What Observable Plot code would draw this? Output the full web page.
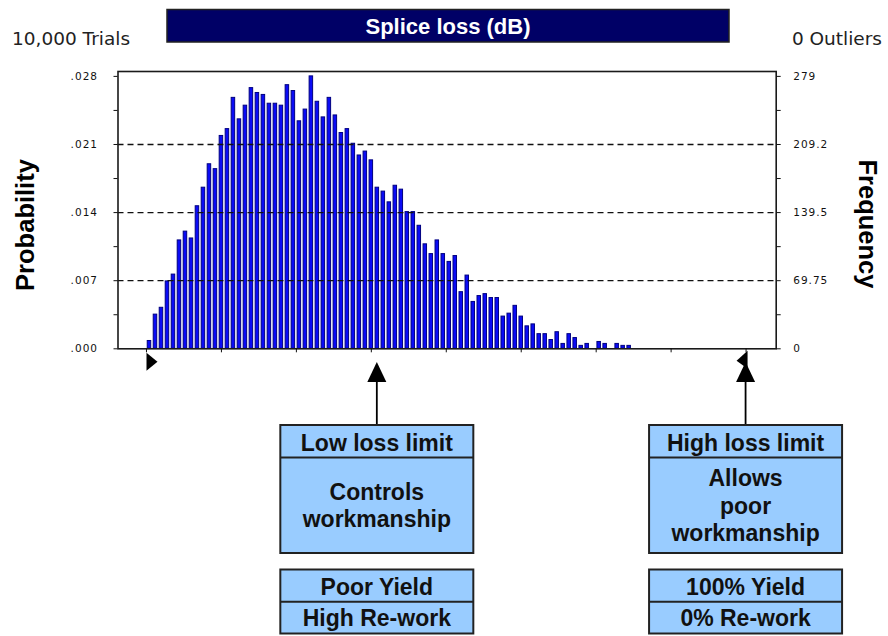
<!DOCTYPE html>
<html><head><meta charset="utf-8">
<script src="https://cdn.jsdelivr.net/npm/d3@7"></script>
<script src="https://cdn.jsdelivr.net/npm/@observablehq/plot@0.6"></script>
<style>
body{margin:0;background:#fff;}
#wrap{position:relative;width:888px;height:636px;overflow:hidden;background:#fff;}
#wrap svg{position:absolute;left:0;top:0;}
</style></head><body><div id="wrap"></div>
<script>
// Histogram of splice loss: frequency per bin (10,000 trials)
const counts = [8,35,42,69,76,111,120,113,146,165,
  189,184,218,225,257,235,249,267,262,260,
  251,251,249,270,264,233,245,279,253,237,
  257,239,221,225,210,198,202,193,165,161,
  150,167,163,140,140,126,107,97,111,97,
  89,95,58,75,48,54,56,52,52,33,
  36,44,33,23,25,15,15,9,17,5,
  15,11,3,5,0,7,5,0,5,3,3];
const binWidth = 0.004; // dB
const trials = 10000;
const yMajor = [0, 69.75, 139.5, 209.25, 279];
const leftLabels = [".000", ".007", ".014", ".021", ".028"];
const rightLabels = ["0", "69.75", "139.5", "209.2", "279"];
const xTicks = [0, 0.05, 0.10, 0.15, 0.20, 0.25, 0.30, 0.35, 0.40];
const limitValues = [0.154, 0.4];
const limitTitles = ["Low loss limit", "High loss limit"];
const limitBodies = [["Controls", "workmanship"], ["Allows", "poor", "workmanship"]];
const limitFeet = [["Poor Yield", "High Re-work"], ["100% Yield", "0% Re-work"]];
const titleText = "Splice loss (dB)";
const trialsText = "10,000 Trials";
const outliersText = "0 Outliers";

const bins = counts.map((c, i) => ({x1: i * binWidth, x2: (i + 1) * binWidth, count: c}));
const yAll = d3.range(9).map(i => i * yMajor[4] / 8);
const lab = labels => d => {
  const k = yMajor.findIndex(v => Math.abs(v - d) < 1e-6);
  return k >= 0 ? labels[k] : "";
};

const rightTri = {draw(ctx) { ctx.moveTo(0, -9); ctx.lineTo(11, 0); ctx.lineTo(0, 9); ctx.closePath(); }};
const leftFlag = {draw(ctx) { ctx.moveTo(1.5, -9); ctx.lineTo(-9.5, 1); ctx.lineTo(1.5, 9); ctx.closePath(); }};

const plot = Plot.plot({
  width: 888, height: 400,
  marginLeft: 117.5, marginRight: 112.3, marginTop: 71, marginBottom: 51.7,
  x: {domain: [-0.019, 0.4201], axis: null},
  y: {domain: [0, 284], axis: null},
  style: {background: "transparent", fontFamily: "DejaVu Sans", fontSize: "10.5px", letterSpacing: "1px", color: "#111", overflow: "visible"},
  marks: [
    Plot.rectY(bins, {x1: "x1", x2: "x2", y: "count", fill: "#0b0bf5", stroke: "#000080", strokeWidth: 1, insetLeft: 1.25, insetRight: 1.25}),
    Plot.ruleY(yMajor.slice(1, 4), {stroke: "#111", strokeWidth: 1.3, strokeDasharray: "6,4"}),
    Plot.frame({stroke: "#1a1a1a", strokeWidth: 1.6}),
    Plot.axisY(yAll, {anchor: "left", tickSize: 4, tickPadding: 16, tickFormat: lab(leftLabels), label: null}),
    Plot.axisY(yAll, {anchor: "right", tickSize: 4, tickPadding: 13, tickFormat: lab(rightLabels), label: null}),
    Plot.axisX(xTicks, {anchor: "bottom", tickSize: 4, tickFormat: () => "", label: null}),
    Plot.dot([xTicks[0]], {x: d => d, y: () => 0, dy: 13, r: 9, symbol: rightTri, fill: "#000", stroke: null}),
    Plot.dot([xTicks[xTicks.length - 1]], {x: d => d, y: () => 0, dy: 11, r: 9, symbol: leftFlag, fill: "#000", stroke: null})
  ]
});
const wrap = document.getElementById("wrap");
wrap.appendChild(plot);

const xs = plot.scale("x");
const svg = d3.select(wrap).append("svg").attr("width", 888).attr("height", 636)
  .style("pointer-events", "none");

// Title bar and corner labels
svg.append("rect").attr("x", 167).attr("y", 9.5).attr("width", 562).attr("height", 32.5)
  .attr("fill", "#000066").attr("stroke", "#222").attr("stroke-width", 1.5);
svg.append("text").attr("x", 448).attr("y", 34).attr("text-anchor", "middle")
  .attr("font-family", "Liberation Sans, Arial, sans-serif").attr("font-weight", "bold")
  .attr("font-size", 22).attr("fill", "#fff").text(titleText);
svg.append("text").attr("x", 12).attr("y", 45).attr("font-family", "DejaVu Sans")
  .attr("font-size", 18.5).attr("fill", "#222").text(trialsText);
svg.append("text").attr("x", 882).attr("y", 45).attr("text-anchor", "end").attr("font-family", "DejaVu Sans")
  .attr("font-size", 18.5).attr("fill", "#222").text(outliersText);

// Axis titles
svg.append("text").attr("transform", "translate(34,225) rotate(-90)").attr("text-anchor", "middle")
  .attr("font-family", "Liberation Sans, Arial, sans-serif").attr("font-weight", "bold")
  .attr("font-size", 25.5).attr("fill", "#000").text("Probability");
svg.append("text").attr("transform", "translate(858.5,224) rotate(90)").attr("text-anchor", "middle")
  .attr("font-family", "Liberation Sans, Arial, sans-serif").attr("font-weight", "bold")
  .attr("font-size", 25.5).attr("fill", "#000").text("Frequency");

// Limit arrows and annotation boxes
const boxW = 193;
const fontBox = {family: "Liberation Sans, Arial, sans-serif", size: 23};
limitValues.forEach((v, i) => {
  const cx = xs.apply(v);
  const g = svg.append("g");
  g.append("line").attr("x1", cx).attr("x2", cx).attr("y1", 380).attr("y2", 425)
    .attr("stroke", "#000").attr("stroke-width", 1.8);
  g.append("path").attr("d", `M${cx},362 L${cx + 9.5},382 L${cx - 9.5},382 Z`).attr("fill", "#000");
  const left = cx - boxW / 2;
  // main box
  g.append("rect").attr("x", left).attr("y", 425).attr("width", boxW).attr("height", 128)
    .attr("fill", "#99ccff").attr("stroke", "#222").attr("stroke-width", 2);
  g.append("line").attr("x1", left).attr("x2", left + boxW).attr("y1", 457.5).attr("y2", 457.5)
    .attr("stroke", "#222").attr("stroke-width", 2);
  // foot box
  g.append("rect").attr("x", left).attr("y", 569.5).attr("width", boxW).attr("height", 64)
    .attr("fill", "#99ccff").attr("stroke", "#222").attr("stroke-width", 2);
  g.append("line").attr("x1", left).attr("x2", left + boxW).attr("y1", 601.7).attr("y2", 601.7)
    .attr("stroke", "#222").attr("stroke-width", 2);
  const t = (y, s) => g.append("text").attr("x", cx).attr("y", y).attr("text-anchor", "middle")
    .attr("font-family", fontBox.family).attr("font-weight", "bold").attr("font-size", fontBox.size)
    .attr("fill", "#111").text(s);
  t(450.5, limitTitles[i]);
  const body = limitBodies[i];
  const lh = 27.5;
  const mid = 513.5;
  body.forEach((s, j) => t(mid + (j - (body.length - 1) / 2) * lh, s));
  t(595, limitFeet[i][0]);
  t(626, limitFeet[i][1]);
});
</script></body></html>
